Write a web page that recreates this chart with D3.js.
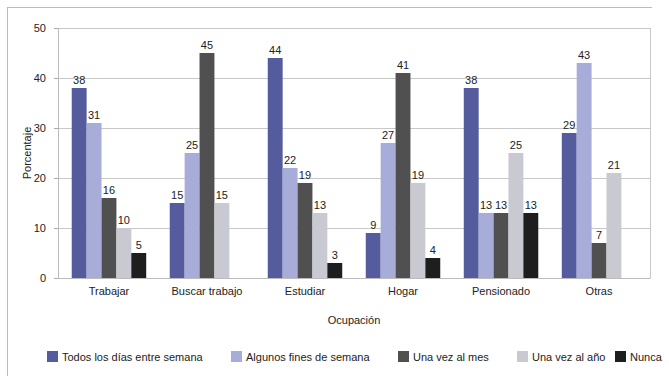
<!DOCTYPE html>
<html><head><meta charset="utf-8">
<script src="https://cdn.jsdelivr.net/npm/d3@7"></script>
<style>body{margin:0;background:#fff}svg{display:block}text{font-family:"Liberation Sans",Arial,sans-serif;fill:#222}</style>
</head><body><svg id="c" width="669" height="378"></svg>
<script>
const categories = ["Trabajar","Buscar trabajo","Estudiar","Hogar","Pensionado","Otras"];
const seriesNames = ["Todos los días entre semana","Algunos fines de semana","Una vez al mes","Una vez al año","Nunca"];
const todosDias = [38,15,44,9,38,29];
const algunosFines = [31,25,22,27,13,43];
const unaVezMes = [16,45,19,41,13,7];
const unaVezAno = [10,15,13,19,25,21];
const nunca = [5,null,3,4,13,null];
const yTicks = [0,10,20,30,40,50];
const colors = ["#545c9e","#a8acd9","#505050","#c9c9d1","#1e1e1e"];
const series = [todosDias,algunosFines,unaVezMes,unaVezAno,nunca];

const svg = d3.select("#c");
const m = {l:58,r:650,t:28,b:278};
const x = d3.scaleBand().domain(categories).range([m.l,m.r]).paddingInner(0.24).paddingOuter(0.14);
const xs = d3.scaleBand().domain(d3.range(5)).range([0,x.bandwidth()]);
const y = d3.scaleLinear().domain([0,50]).range([m.b,m.t]);

// frame
svg.append("line").attr("x1",7).attr("x2",652).attr("y1",7.5).attr("y2",7.5).attr("stroke","#bbb");
svg.append("line").attr("x1",7.5).attr("x2",7.5).attr("y1",7).attr("y2",376).attr("stroke","#bbb");

// grid
svg.append("g").selectAll("line").data(yTicks.slice(1)).join("line")
  .attr("x1",m.l).attr("x2",m.r).attr("y1",d=>y(d)+0.5).attr("y2",d=>y(d)+0.5).attr("stroke","#c8c8c8");
svg.append("line").attr("x1",m.r+0.5).attr("x2",m.r+0.5).attr("y1",m.t).attr("y2",m.b).attr("stroke","#c8c8c8");

// axes
const yAx = svg.append("g").attr("transform",`translate(${m.l},0)`).call(d3.axisLeft(y).tickValues(yTicks).tickSize(4).tickPadding(8));
yAx.select(".domain").attr("stroke","#bbb");
yAx.selectAll(".tick line").attr("stroke","#aaa");
yAx.selectAll("text").style("font-size","11px").attr("fill","#222");
const xAx = svg.append("g").attr("transform",`translate(0,${m.b})`).call(d3.axisBottom(x).tickSize(0).tickPadding(9));
xAx.select(".domain").attr("stroke","#bbb");
xAx.selectAll("text").style("font-size","11px").attr("fill","#222");

// bars
series.forEach((vals,si)=>{
  const g = svg.append("g");
  const data = categories.map((c,i)=>({c,v:vals[i]})).filter(d=>d.v!=null);
  g.selectAll("rect").data(data).join("rect")
    .attr("x",d=>x(d.c)+xs(si)).attr("width",xs.bandwidth())
    .attr("y",d=>y(d.v)).attr("height",d=>y(0)-y(d.v)).attr("fill",colors[si]);
  g.selectAll("text").data(data).join("text")
    .attr("x",d=>x(d.c)+xs(si)+xs.bandwidth()/2).attr("y",d=>y(d.v)-4)
    .attr("text-anchor","middle").style("font-size","11px").attr("fill","#333").text(d=>d.v);
});

// axis titles
svg.append("text").attr("x",354).attr("y",324).attr("text-anchor","middle").style("font-size","11px").text("Ocupación");
svg.append("text").attr("transform","translate(31,153) rotate(-90)").attr("text-anchor","middle").style("font-size","11px").text("Porcentaje");

// legend
const legX = [47,231,398,517,615];
const lg = svg.append("g").selectAll("g").data(seriesNames).join("g").attr("transform",(d,i)=>`translate(${legX[i]},351)`);
lg.append("rect").attr("width",11).attr("height",11).attr("fill",(d,i)=>colors[i]);
lg.append("text").attr("x",15).attr("y",9.5).style("font-size","11px").text(d=>d);
</script></body></html>
